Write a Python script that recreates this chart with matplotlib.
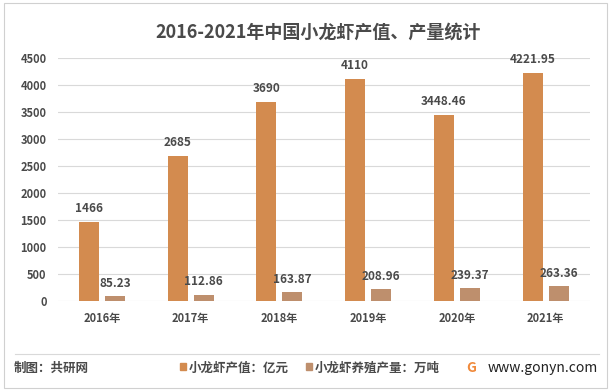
import numpy as np
import matplotlib
matplotlib.use("Agg")
import matplotlib.pyplot as plt
from matplotlib.patches import Rectangle
from matplotlib.lines import Line2D

plt.rcParams["font.family"] = ["Noto Sans CJK SC", "DejaVu Sans"]

years = ["2016年", "2017年", "2018年", "2019年", "2020年", "2021年"]
value = [1466, 2685, 3690, 4110, 3448.46, 4221.95]
output = [85.23, 112.86, 163.87, 208.96, 239.37, 263.36]
value_labels = ["1466", "2685", "3690", "4110", "3448.46", "4221.95"]
output_labels = ["85.23", "112.86", "163.87", "208.96", "239.37", "263.36"]
yticks = [0, 500, 1000, 1500, 2000, 2500, 3000, 3500, 4000, 4500]

C_VALUE = "#D38B4F"
C_OUTPUT = "#BE8F6D"
TXT = "#4A4A4A"

fig = plt.figure(figsize=(6.11, 3.91), dpi=100)
ax = fig.add_axes([0.0943, 0.231, 0.8713, 0.621])

x = np.arange(len(years))
w = 0.225
off = 0.147
ax.bar(x - off, value, w, color=C_VALUE, zorder=2)
ax.bar(x + off, output, w, color=C_OUTPUT, zorder=2)

for xi, v, s in zip(x, value, value_labels):
    ax.annotate(s, (xi - off, v), xytext=(0, 5), textcoords="offset points",
                ha="center", va="bottom", fontsize=8.5, fontweight="bold",
                color=TXT)
for xi, v, s in zip(x, output, output_labels):
    ax.annotate(s, (xi + off, v), xytext=(0, 4.5), textcoords="offset points",
                ha="center", va="bottom", fontsize=8.5, fontweight="bold",
                color=TXT)

ax.set_xlim(-0.5, len(years) - 0.5)
ax.set_ylim(0, 4500)
ax.set_yticks(yticks)
ax.set_yticklabels([str(t) for t in yticks], fontsize=8, fontweight="bold",
                   color=TXT)
ax.set_xticks(x)
ax.set_xticklabels(years, fontsize=8, fontweight="bold", color=TXT)
ax.tick_params(length=0)
ax.tick_params(axis="x", pad=8)
ax.tick_params(axis="y", pad=8)
ax.grid(axis="y", color="#D9D9D9", lw=0.8, zorder=0)
for sp in ax.spines.values():
    sp.set_visible(False)

fig.text(318 / 611, 1 - 32 / 391, "2016-2021年中国小龙虾产值、产量统计",
         ha="center", va="center", fontsize=13, fontweight="bold", color=TXT)

# outer frame and footer separator
fig.add_artist(Rectangle((0.006, 0.008), 0.988, 0.984, transform=fig.transFigure,
                         fill=False, ec="#D0D0D0", lw=0.8))
fig.add_artist(Line2D([15 / 611, 599 / 611], [1 - 354 / 391] * 2,
                      transform=fig.transFigure, color="#D9D9D9", lw=0.8))

fy = 1 - 368 / 391
fig.text(14 / 611, fy, "制图：共研网", ha="left", va="center", fontsize=9,
         fontweight="bold", color=TXT)
fig.add_artist(Rectangle((180 / 611, 1 - 370 / 391), 6 / 611, 7 / 391,
                         transform=fig.transFigure, color=C_VALUE))
fig.text(189 / 611, fy, "小龙虾产值：亿元", ha="left", va="center",
         fontsize=9, fontweight="bold", color=TXT)
fig.add_artist(Rectangle((306 / 611, 1 - 370 / 391), 6 / 611, 7 / 391,
                         transform=fig.transFigure, color=C_OUTPUT))
fig.text(315 / 611, fy, "小龙虾养殖产量：万吨", ha="left", va="center",
         fontsize=9, fontweight="bold", color=TXT)
fig.text(471 / 611, fy, "G", ha="center", va="center", fontsize=10,
         fontweight="bold", color="#F08A3C")
fig.text(488 / 611, fy, "www.gonyn.com", ha="left", va="center",
         fontsize=10, color="#222222")

fig.savefig("out.png", dpi=100)
